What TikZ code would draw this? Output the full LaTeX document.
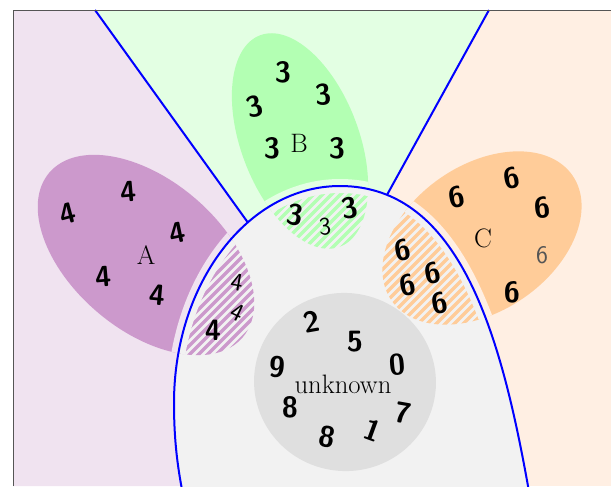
\documentclass[tikz,border=0pt]{standalone}
\usepackage{tikz}
\usetikzlibrary{positioning}

\definecolor{bgA}{HTML}{F0E3F0}
\definecolor{bgB}{HTML}{E3FFE3}
\definecolor{bgC}{HTML}{FFEFE3}
\definecolor{blobA}{HTML}{CC99CC}
\definecolor{blobB}{HTML}{B3FFB3}
\definecolor{blobC}{HTML}{FFCC99}
\definecolor{unk}{HTML}{F2F2F2}
\definecolor{unkcore}{HTML}{DFDFDF}
\definecolor{frame}{HTML}{555555}

\newcommand{\unkpath}{(184,500) .. controls (178,470) and (174,443) .. (174,403)
  .. controls (174,283) and (248,186) .. (340,186)
  .. controls (460,186) and (501,336) .. (528,486) -- (531,502) -- (184,502) -- cycle}

\begin{document}
\begin{tikzpicture}[
    x=0.75pt, y=-0.75pt,
    digit/.style={font=\fontsize{22}{22}\selectfont\sffamily\bfseries, inner sep=0pt},
    thin/.style={font=\fontsize{19}{19}\selectfont\sffamily, inner sep=0pt},
    lab/.style={font=\fontsize{20}{20}\selectfont, inner sep=0pt},
    border/.style={blue, line width=1.5pt},
    hatch/.style={line width=2.4pt},
    gap/.style={line width=10.5pt}
]
    \useasboundingbox (0,0) rectangle (611,486);
    \clip (0,0) rectangle (611,486);
    \fill[white] (0,0) rectangle (611,486);

    % Regions
    \coordinate (corner) at (13,10);
    \coordinate (topA) at (95,10);
    \coordinate (topC) at (489,10);
    \coordinate (hub) at (318,320);
    \fill[bgC] (corner) rectangle (611,486);
    \fill[bgA] (corner) -- (topA) -- (hub) -- (318,486) -- (13,486) -- cycle;
    \fill[bgB] (topA) -- (topC) -- (hub) -- cycle;

    % Blobs
    \fill[blobA, rotate around={-40.4:(146,255)}] (146,255) ellipse [x radius=127, y radius=75];
    \fill[blobB, rotate around={-69.3:(300,141)}] (300,141) ellipse [x radius=113, y radius=59];
    \fill[blobC, rotate around={34.6:(482,238)}] (482,238) ellipse [x radius=110, y radius=73];

    % Dividers
    \draw[border] (topA) -- (hub);
    \draw[border] (topC) -- (hub);

    % Unknown area
    \fill[unk] \unkpath;

    % Gaps and hatched parts
    \foreach \cx/\cy/\a/\b/\rot/\col/\bg in {146/255/127/75/-40.4/blobA/bgA,
        300/141/113/59/-69.3/blobB/bgB, 482/238/110/73/34.6/blobC/bgC}{
      \begin{scope}
        \clip[rotate around={\rot:(\cx,\cy)}] (\cx,\cy) ellipse [x radius=\a, y radius=\b];
        \draw[gap, \bg] \unkpath;
        \clip \unkpath;
        \foreach \k in {400,409,...,820}
          \draw[hatch, \col] (\k,0) -- (\k-500,500);
        \draw[gap, unk] \unkpath;
      \end{scope}
    }

    \fill[unkcore, rotate around={-10:(345,382)}] (345,382) ellipse [x radius=91, y radius=89];
    \draw[border] \unkpath;

    % Frame
    \draw[frame, line width=0.75pt] (13,486) -- (corner) -- (611,10);

    % Labels
    \node[lab] (labA) at (146,255) {A};
    \node[lab] (labB) at (299,143) {B};
    \node[lab] (labC) at (483,238) {C};
    \node[lab] (labU) at (343,384) {unknown};

    % Digits
    \foreach \x/\y/\rot [count=\i] in {68/214/15, 128/192/5, 177/233/12, 103/277/5, 157/295/-5, 213/330/0}
      \node[digit, rotate=\rot] (four\i) at (\x,\y) {4};
    \node[thin, rotate=-10] (four7) at (237,282) {4};
    \node[thin, rotate=-25] (four8) at (237,312) {4};

    \foreach \x/\y/\rot [count=\i] in {283/72/0, 255/107/15, 323/95/5, 272/148/0, 337/148/0, 295/215/-10, 350/208/10}
      \node[digit, rotate=\rot] (three\i) at (\x,\y) {3};
    \node[thin, rotate=5] (three8) at (325,227) {3};

    \foreach \x/\y/\rot [count=\i] in {457/197/10, 512/178/10, 542/208/5, 512/292/0, 403/250/10, 433/273/10, 408/285/10, 440/303/10}
      \node[digit, rotate=\rot] (six\i) at (\x,\y) {6};
    \node[thin, frame] (six9) at (542,255) {6};

    \node[digit, rotate=10] (two) at (312,322) {2};
    \node[digit] (five) at (355,342) {5};
    \node[digit, rotate=5] (zero) at (397,365) {0};
    \node[digit, rotate=-5] (nine) at (277,367) {9};
    \node[digit] (eightA) at (290,407) {8};
    \node[digit, rotate=-10] (seven) at (403,413) {7};
    \node[digit, rotate=-20] (one) at (373,430) {1};
    \node[digit, rotate=-10] (eightB) at (327,437) {8};
\end{tikzpicture}
\end{document}
